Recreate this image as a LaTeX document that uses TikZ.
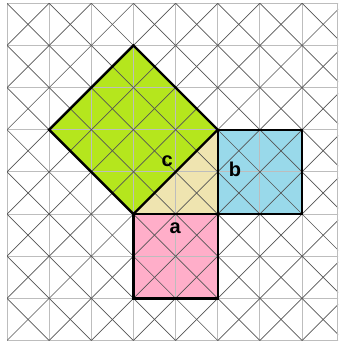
\documentclass[tikz,border=0pt]{standalone}
\usepackage{fontspec}
\setmainfont{Liberation Sans}
\definecolor{cgreen}{HTML}{B5E61D}
\definecolor{cblue}{HTML}{99D9EA}
\definecolor{cpink}{HTML}{FFAEC9}
\definecolor{ctan}{HTML}{EFE4B0}
\definecolor{gridc}{HTML}{BDBDBD}
\definecolor{diagc}{HTML}{555555}
\begin{document}
\begin{tikzpicture}[x=1pt,y=-1pt,
  gridline/.style={gridc,line width=0.9pt},
  diagline/.style={diagc,line width=0.7pt},
  border/.style={black,line width=2.4pt,line join=miter},
  lbl/.style={font=\bfseries\fontsize{20}{20}\selectfont,inner sep=0pt}]
\useasboundingbox (0,0) rectangle (338,342);
\fill[white] (0,0) rectangle (338,342);
\begin{scope}[shift={(7,3.3)},x=42.15pt,y=-42.15pt]
  % fills
  \fill[cgreen] (3,5) -- (5,3) -- (3,1) -- (1,3) -- cycle;
  \fill[ctan] (3,5) -- (5,5) -- (5,3) -- cycle;
  \fill[cblue] (5,3) rectangle (7,5);
  \fill[cpink] (3,5) rectangle (5,7);
  % grid
  \begin{scope}
    \clip (0,0) rectangle (7.853,8);
    \foreach \i in {0,...,7} {\draw[gridline] (\i,0) -- (\i,8);}
    \foreach \j in {0,...,8} {\draw[gridline] (0,\j) -- (8,\j);}
    \foreach \i in {0,...,7} {
      \foreach \j in {0,...,7} {
        \draw[diagline] (\i,\j) -- (\i+1,\j+1);
        \draw[diagline] (\i+1,\j) -- (\i,\j+1);
      }
    }
  \end{scope}
  \draw[gridline] (7.83,0) -- (7.83,8);
  % borders
  \draw[border] (3,5) -- (5,3) -- (3,1) -- (1,3) -- cycle;
  \draw[border] (5,3) rectangle (7,5);
  \draw[border] (3,5) rectangle (5,7);
  % labels
  \node[lbl] (lc) at (3.80,3.74) {c};
  \node[lbl] (lb) at (5.41,3.93) {b};
  \node[lbl] (la) at (3.99,5.33) {a};
\end{scope}
\end{tikzpicture}
\end{document}
